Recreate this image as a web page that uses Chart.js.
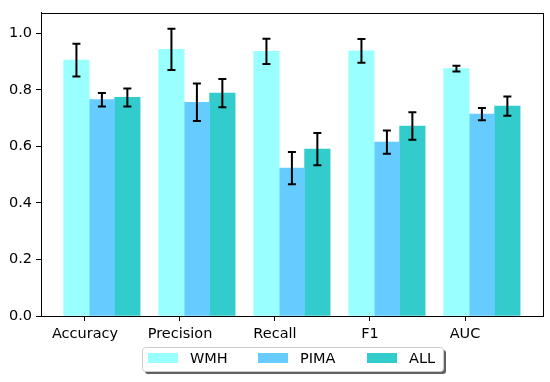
<!DOCTYPE html>
<html>
<head>
<meta charset="utf-8">
<script src="https://cdn.jsdelivr.net/npm/chart.js@4/dist/chart.umd.min.js"></script>
<style>
  html, body { margin: 0; padding: 0; background: #fff; }
  #wrap { width: 550px; height: 382px; }
</style>
</head>
<body>
<div id="wrap"><canvas id="myChart" width="550" height="382"></canvas></div>
<script>
var metrics = ['Accuracy', 'Precision', 'Recall', 'F1', 'AUC'];
var seriesNames = ['WMH', 'PIMA', 'ALL'];
var wmh = [0.905, 0.943, 0.936, 0.938, 0.875];
var pima = [0.765, 0.756, 0.523, 0.615, 0.714];
var all = [0.773, 0.788, 0.590, 0.672, 0.742];
var wmhErr = [0.058, 0.073, 0.045, 0.042, 0.010];
var pimaErr = [0.024, 0.066, 0.057, 0.041, 0.022];
var allErr = [0.032, 0.050, 0.057, 0.049, 0.034];
var yTicks = [0, 0.2, 0.4, 0.6, 0.8, 1.0];

var colors = ['#99FFFF', '#66CCFF', '#33CCCC'];
var offsets = [-0.09, 0.178, 0.446];
var FONT = 'DejaVu Sans';

function points(values, k) {
    return values.map(function (v, i) { return { x: i + offsets[k], y: v }; });
}

var errs = [wmhErr, pimaErr, allErr];

// draws error bars at each bar top through the chart scales
var errorBars = {
    id: 'errorBars',
    afterDatasetsDraw: function (chart) {
        var c = chart.ctx;
        var xs = chart.scales.x, ys = chart.scales.y;
        c.save();
        c.strokeStyle = '#000';
        c.lineWidth = 2;
        chart.data.datasets.forEach(function (ds, k) {
            ds.data.forEach(function (p, i) {
                var x = xs.getPixelForValue(p.x);
                var hi = ys.getPixelForValue(p.y + errs[k][i]);
                var lo = ys.getPixelForValue(p.y - errs[k][i]);
                c.beginPath();
                c.moveTo(x, hi); c.lineTo(x, lo);
                c.moveTo(x - 4, hi); c.lineTo(x + 4, hi);
                c.moveTo(x - 4, lo); c.lineTo(x + 4, lo);
                c.stroke();
            });
        });
        c.restore();
    }
};

// full frame around the plot and a matplotlib-like legend box
var frameLegend = {
    id: 'frameLegend',
    afterDraw: function (chart) {
        var c = chart.ctx, a = chart.chartArea;
        c.save();
        c.strokeStyle = '#000';
        c.lineWidth = 1;
        c.strokeRect(Math.round(a.left) + 0.5, Math.round(a.top) + 0.5,
            Math.round(a.right - a.left), Math.round(a.bottom - a.top));

        var lx = 142, ly = 347, lw = 301, lh = 24;
        c.fillStyle = 'rgba(80,80,80,0.9)';
        c.beginPath();
        c.roundRect(lx + 3, ly + 3, lw, lh, 3);
        c.fill();
        c.fillStyle = '#fff';
        c.strokeStyle = '#cccccc';
        c.beginPath();
        c.roundRect(lx + 0.5, ly + 0.5, lw, lh, 3);
        c.fill();
        c.stroke();

        var swatchX = [148, 258, 367];
        c.font = '14.5px "' + FONT + '"';
        c.textBaseline = 'middle';
        c.textAlign = 'left';
        chart.data.datasets.forEach(function (ds, k) {
            c.fillStyle = ds.backgroundColor;
            c.fillRect(swatchX[k], 353, 30, 10);
            c.fillStyle = '#000';
            c.fillText(ds.label, swatchX[k] + 42, 359);
        });
        c.restore();
    }
};

var datasets = [wmh, pima, all].map(function (vals, k) {
    return {
        label: seriesNames[k],
        data: points(vals, k),
        backgroundColor: colors[k],
        borderWidth: 0,
        barThickness: 25.5,
        grouped: false
    };
});

var ctx = document.getElementById('myChart').getContext('2d');
var myChart = new Chart(ctx, {
    type: 'bar',
    data: { datasets: datasets },
    options: {
        responsive: false,
        animation: false,
        layout: { padding: { top: 6, right: 7, left: 0, bottom: 0 } },
        plugins: {
            legend: { display: false },
            tooltip: { enabled: false }
        },
        scales: {
            x: {
                type: 'linear',
                offset: false,
                min: -0.463,
                max: 4.821,
                afterFit: function (s) { s.height = 66; },
                afterBuildTicks: function (s) {
                    s.ticks = metrics.map(function (m, i) { return { value: i }; });
                },
                ticks: {
                    callback: function (v) { return metrics[v]; },
                    color: '#000',
                    font: { family: FONT, size: 14.5 },
                    padding: 5,
                    maxRotation: 0,
                    autoSkip: false
                },
                grid: { drawOnChartArea: false, drawTicks: true, tickLength: 5, color: '#000', offset: false },
                border: { display: true, color: '#000', width: 1 }
            },
            y: {
                min: 0,
                max: 1.0727,
                afterFit: function (s) { s.width = 41; },
                afterBuildTicks: function (s) {
                    s.ticks = yTicks.map(function (v) { return { value: v }; });
                },
                ticks: {
                    callback: function (v) { return v.toFixed(1); },
                    color: '#000',
                    font: { family: FONT, size: 14.5 },
                    padding: 4
                },
                grid: { drawOnChartArea: false, drawTicks: true, tickLength: 5, color: '#000' },
                border: { display: true, color: '#000', width: 1 }
            }
        }
    },
    plugins: [errorBars, frameLegend]
});
</script>
</body>
</html>
